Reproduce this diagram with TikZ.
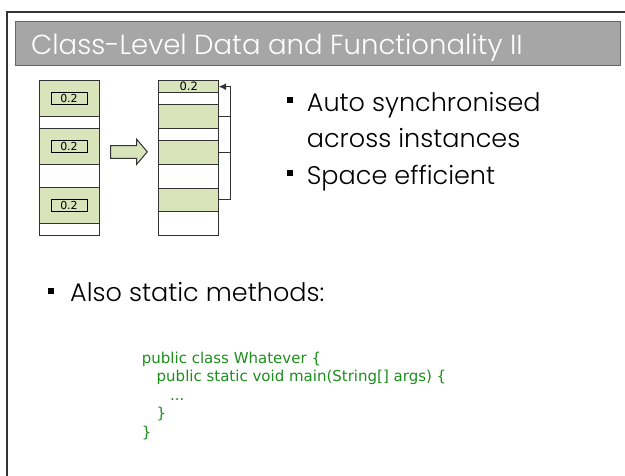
\documentclass[tikz,border=0pt]{standalone}
\usepackage{fontspec}
\setmainfont{Poppins}[UprightFont={* Light}]
\newfontfamily\codefont{DejaVu Sans}
\usetikzlibrary{arrows.meta}
\definecolor{cellgreen}{HTML}{D9E4BA}
\definecolor{codegreen}{RGB}{28,142,28}
\definecolor{titlegray}{HTML}{A6A6A6}
\definecolor{edgegray}{HTML}{333333}
\tikzset{
  cell/.style={draw=edgegray, line width=1pt, inner sep=0pt, outer sep=0pt, minimum width=60pt},
  gcell/.style={cell, fill=cellgreen},
  wcell/.style={cell, fill=white},
  valbox/.style={draw=black, line width=0.9pt, inner sep=0pt, minimum width=36pt, minimum height=12pt, font=\codefont\fontsize{11}{11}\selectfont},
  bulletsq/.style={fill=black, inner sep=0pt, minimum size=6pt},
  bigtext/.style={anchor=base west, inner sep=0pt, font=\fontsize{25.5}{30}\selectfont},
  codeline/.style={anchor=base west, inner sep=0pt, text=codegreen, font=\codefont\fontsize{15}{18}\selectfont},
  link/.style={draw=edgegray, line width=1pt}
}
\begin{document}
\begin{tikzpicture}[x=1pt,y=-1pt]
\useasboundingbox (0,0) rectangle (625,476);
% frame (left and top sides visible)
\draw[edgegray, line width=1.5pt] (7,500) -- (7,12) -- (660,12);
% title bar
\node[draw=gray!80!black, fill=titlegray, line width=1pt, minimum width=605pt, minimum height=44pt, inner sep=0pt, anchor=north west] (bar) at (15,21) {};
\node[anchor=base west, inner sep=0pt, text=white, font=\fontsize{27.5}{32}\selectfont] (title) at (31,55) {Class-Level Data and Functionality II};
% left column
\node[gcell, minimum height=36pt] (l1) at (69,98.7) {};
\node[wcell, minimum height=11.6pt] (l2) at (69,122.5) {};
\node[gcell, minimum height=36.7pt] (l3) at (69,146.65) {};
\node[wcell, minimum height=22.3pt] (l4) at (69,176.15) {};
\node[gcell, minimum height=36.7pt] (l5) at (69,205.65) {};
\node[wcell, minimum height=11.7pt] (l6) at (69,229.85) {};
\node[valbox] (v1) at (l1.center) {0.2};
\node[valbox] (v2) at (l3.center) {0.2};
\node[valbox] (v3) at (l5.center) {0.2};
% block arrow
\draw[draw=edgegray, fill=cellgreen, line width=1pt, line join=miter]
  (110.7,145.7) -- (136.7,145.7) -- (136.7,139.3) -- (147.3,151.8) -- (136.7,164.3) -- (136.7,158.3) -- (110.7,158.3) -- cycle;
% right column
\node[gcell, minimum height=12pt] (r1) at (188.7,86.7) {};
\node[wcell, minimum height=12.3pt] (r2) at (188.7,98.85) {};
\node[gcell, minimum height=23.3pt] (r3) at (188.7,116.65) {};
\node[wcell, minimum height=12.4pt] (r4) at (188.7,134.5) {};
\node[gcell, minimum height=23.6pt] (r5) at (188.7,152.5) {};
\node[wcell, minimum height=24pt] (r6) at (188.7,176.3) {};
\node[gcell, minimum height=23.4pt] (r7) at (188.7,200) {};
\node[wcell, minimum height=24pt] (r8) at (188.7,223.7) {};
\node[inner sep=0pt, font=\codefont\fontsize{11.5}{11.5}\selectfont] (rv) at ([yshift=0.5pt]r1.center) {0.2};
% links
\coordinate (turn) at (230,200);
\draw[link, -{Latex[length=7.5pt,width=7pt]}] (r7.east) -- (turn) |- (r1.east);
\draw[link] (r3.east) -- (r3.east -| turn);
\draw[link] (r5.east) -- (r5.east -| turn);
% right bullets
\node[bulletsq] (b1) at (289.7,99.7) {};
\node[bigtext] (t1a) at (306.7,112) {Auto synchronised};
\node[bigtext] (t1b) at (306.7,148) {across instances};
\node[bulletsq] (b2) at (289.7,173) {};
\node[bigtext] (t2) at (306.7,184.5) {Space efficient};
% lower bullet
\node[bulletsq] (b3) at (51.3,291.3) {};
\node[bigtext] (t3) at (70,302) {Also static methods:};
% code
\node[codeline] (c1) at (141.7,363) {public class Whatever \{};
\node[codeline] (c2) at (156.5,381.5) {public static void main(String[] args) \{};
\node[codeline] (c3) at (170,400) {...};
\node[codeline] (c4) at (156.5,418.5) {\}};
\node[codeline] (c5) at (141.7,437) {\}};
\end{tikzpicture}
\end{document}
